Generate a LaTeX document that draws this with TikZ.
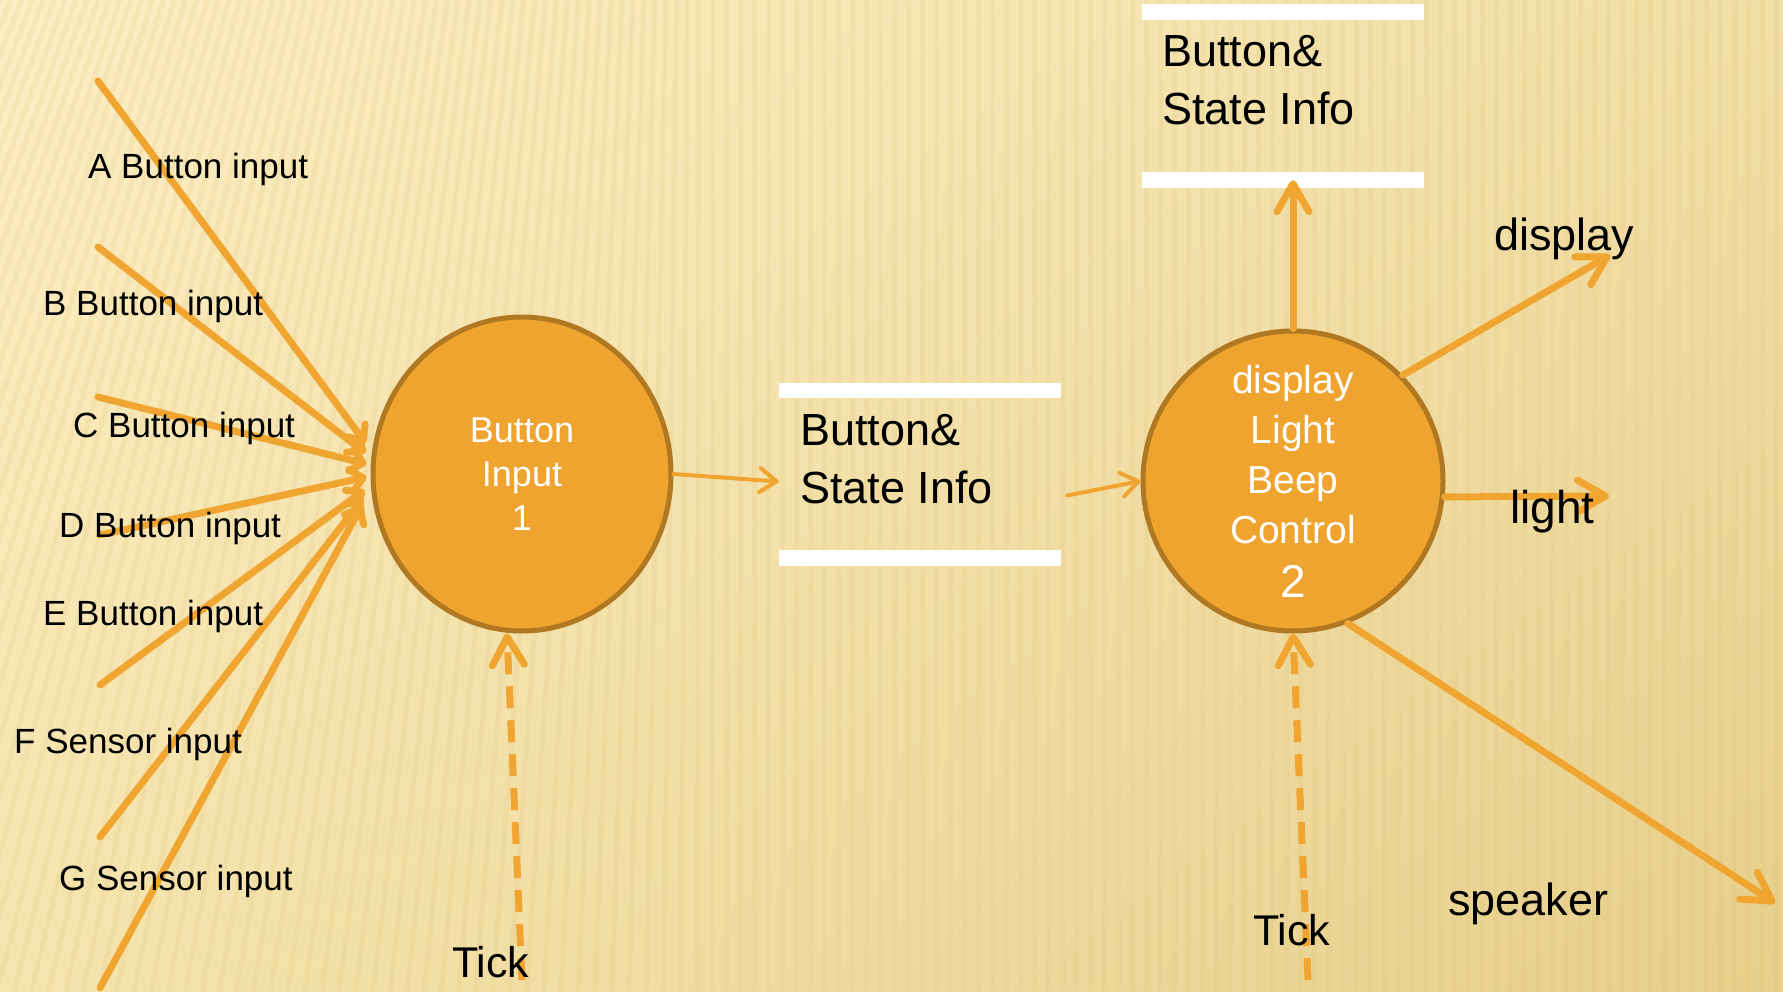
\documentclass[tikz,border=0pt]{standalone}
\usepackage{fontspec}
\setmainfont{Liberation Sans}
\usetikzlibrary{arrows.meta,shapes.geometric,shadings}
\definecolor{orfill}{HTML}{EFA42F}
\definecolor{orline}{HTML}{B07821}
\definecolor{arr}{HTML}{F0A531}
\definecolor{bgA}{HTML}{FCEEC4}
\definecolor{bgB}{HTML}{F2DFA6}
\definecolor{bgC}{HTML}{F6E4AE}
\definecolor{bgD}{HTML}{E7CF8C}
\definecolor{stripecol}{HTML}{D9B862}
\begin{document}
\begin{tikzpicture}[x=1pt,y=-1pt,
  proc/.style={fill=orfill, draw=orline, line width=5pt, text=white, align=center, inner sep=0pt},
  storebox/.style={minimum width=282pt, minimum height=183pt, inner sep=0pt},
  storetext/.style={text=black, align=left, inner sep=0pt, font=\fontsize{45}{58}\selectfont},
  lbl/.style={text=black, inner sep=0pt, font=\fontsize{35}{42}\selectfont},
  biglbl/.style={text=black, inner sep=0pt, font=\fontsize{45}{54}\selectfont},
  inarrow/.style={draw=arr, line width=7pt, line cap=round, -{Straight Barb[length=12pt,width=22pt,round]}},
  bigarrow/.style={draw=arr, line width=7pt, line cap=round, -{Straight Barb[length=28pt,width=32pt,round]}},
  thinarrow/.style={draw=arr, line width=4pt, line cap=round, -{Straight Barb[length=17pt,width=24pt,round]}},
  tickarrow/.style={draw=arr, line width=7pt, dash pattern=on 22pt off 12pt, -{Straight Barb[length=28pt,width=32pt,round]}}
]
\useasboundingbox (0,0) rectangle (1783,991);
% background
\shade[upper left=bgA, upper right=bgB, lower left=bgC, lower right=bgD] (0,0) rectangle (1783,991);
\begin{scope}
\clip (0,0) rectangle (1783,991);
\foreach \i in {-25,...,136} {
  \pgfmathsetmacro{\xx}{\i*14-30}
  \pgfmathsetmacro{\dd}{max(0,700-\xx)*0.22}
  \draw[stripecol, line width=5pt, opacity=0.13] (\xx+\dd,0) -- (\xx-\dd,991);
}
\end{scope}

% processes
\node[proc, ellipse, minimum width=298pt, minimum height=314pt, font=\fontsize{36}{44}\selectfont] (c1) at (522,474) {Button\\Input\\1};
\node[proc, circle, minimum size=300pt, font=\fontsize{39}{50}\selectfont] (c2) at (1293,481) {display\\Light\\Beep\\Control\\[4pt]{\fontsize{46}{50}\selectfont 2}};

% data stores
\node[storebox] (s1) at (920,474.5) {};
\fill[white] (s1.north west) rectangle ([yshift=-15pt]s1.north east);
\fill[white] ([yshift=16pt]s1.south west) rectangle (s1.south east);
\node[storetext, anchor=north west] (s1t) at (800,414) {Button\&\\State Info};

\node[storebox, minimum height=184pt] (s2) at (1283,96) {};
\fill[white] (s2.north west) rectangle ([yshift=-16pt]s2.north east);
\fill[white] ([yshift=16pt]s2.south west) rectangle (s2.south east);
\node[storetext, anchor=north west] (s2t) at (1162,35) {Button\&\\State Info};

% input arrows
\foreach \n/\px/\py/\ex/\ey in {A/98/81/-5/31, B/98/247/-5/21, C/98/397/-4/10, D/100/535/-4/-3, E/100/685/-6/-16, F/100/837/-8/-25, G/100/988/-9/-32} {
  \coordinate (in\n) at (\px,\py);
  \draw[inarrow] (in\n) -- ([xshift=\ex pt,yshift=\ey pt]c1.west);
}

% input labels (over the lines)
\node[lbl, anchor=base west] (lA) at (88,178) {A Button input};
\node[lbl, anchor=base west] (lB) at (43,315) {B Button input};
\node[lbl, anchor=base west] (lC) at (73,437) {C Button input};
\node[lbl, anchor=base west] (lD) at (59,537) {D Button input};
\node[lbl, anchor=base west] (lE) at (43,625) {E Button input};
\node[lbl, anchor=base west] (lF) at (14,753) {F Sensor input};
\node[lbl, anchor=base west] (lG) at (59,890) {G Sensor input};

% flows between process and stores
\draw[thinarrow] (c1.east) -- ([yshift=-7pt]s1.west);
\draw[thinarrow] ([xshift=6pt,yshift=-21pt]s1.east) -- (c2.west);
\draw[bigarrow] (c2.north) -- ([yshift=8pt]c2.north |- s2.south);

% outputs
\coordinate (dispE) at (1610,255);
\coordinate (lightE) at (1609,496);
\coordinate (spkE) at (1775,903);
\draw[bigarrow] (c2.44) -- (dispE);
\draw[bigarrow] (c2.-6) -- (lightE);
\draw[bigarrow] (c2.-69) -- (spkE);
\node[biglbl, anchor=base west] (ldisp) at (1494,250) {display};
\node[biglbl, anchor=base west, font=\fontsize{46}{54}\selectfont] (llight) at (1510,523) {light};
\node[biglbl, anchor=base west] (lspk) at (1448,915) {speaker};

% ticks
\coordinate (tick1) at (522,980);
\coordinate (tick2) at (1308,980);
\draw[tickarrow] (tick1) -- ([xshift=-15pt]c1.south);
\draw[tickarrow] (tick2) -- (c2.south);
\node[biglbl, anchor=base west, font=\fontsize{43}{50}\selectfont] (lt1) at (452,977) {Tick};
\node[biglbl, anchor=base west, font=\fontsize{43}{50}\selectfont] (lt2) at (1253,945) {Tick};
\end{tikzpicture}
\end{document}
